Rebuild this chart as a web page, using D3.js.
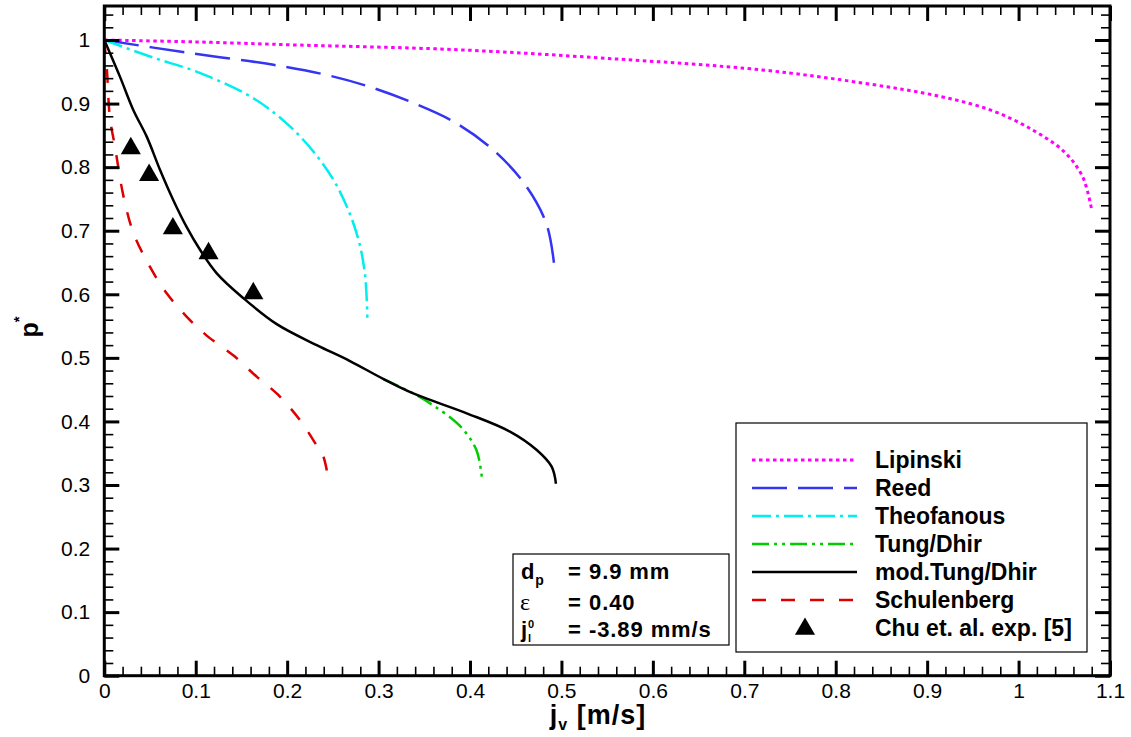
<!DOCTYPE html>
<html>
<head>
<meta charset="utf-8">
<script src="https://cdn.jsdelivr.net/npm/d3@7"></script>
<style>
  body { margin: 0; background: #fff; }
  svg { display: block; font-family: "Liberation Sans", Arial, Helvetica, sans-serif; }
</style>
</head>
<body>
<svg id="chart" width="1131" height="737"></svg>
<script>
// Dryout pressure ratio p* versus superficial vapour velocity j_v [m/s]
const xTicks = [0, 0.1, 0.2, 0.3, 0.4, 0.5, 0.6, 0.7, 0.8, 0.9, 1, 1.1];
const yTicks = [0, 0.1, 0.2, 0.3, 0.4, 0.5, 0.6, 0.7, 0.8, 0.9, 1];

const lipinski = [
  [0, 1.0], [0.1, 0.997], [0.214, 0.992], [0.382, 0.985], [0.551, 0.971], [0.719, 0.953],
  [0.831, 0.932], [0.915, 0.911], [0.971, 0.889], [1.016, 0.858], [1.05, 0.824],
  [1.07, 0.785], [1.080, 0.733]
];
const reed = [
  [0, 1.0], [0.086, 0.981], [0.185, 0.961], [0.24, 0.946], [0.289, 0.927], [0.338, 0.901],
  [0.384, 0.870], [0.4255, 0.827], [0.46, 0.773], [0.484, 0.709], [0.493, 0.634]
];
const theofanous = [
  [0, 1.0], [0.05, 0.974], [0.105, 0.948], [0.16, 0.911], [0.197, 0.872], [0.229, 0.824],
  [0.255, 0.769], [0.276, 0.696], [0.285, 0.633], [0.2877, 0.563]
];
const tungDhir = [
  [0.305, 0.467], [0.338, 0.444], [0.36, 0.425], [0.389, 0.393],
  [0.407, 0.355], [0.413, 0.311]
];
const modTungDhir = [
  [0, 1.0], [0.0172, 0.942], [0.0317, 0.890], [0.0464, 0.848], [0.061, 0.7955],
  [0.0755, 0.748], [0.09, 0.706], [0.1047, 0.670], [0.123, 0.633], [0.152, 0.594],
  [0.1886, 0.553], [0.2323, 0.520], [0.2687, 0.495], [0.305, 0.467], [0.338, 0.444],
  [0.3964, 0.4128], [0.4437, 0.384], [0.473, 0.355], [0.4893, 0.3288], [0.494, 0.302]
];
const schulenberg = [
  [0, 1.0], [0.003, 0.95], [0.006, 0.879], [0.0117, 0.832], [0.021, 0.754], [0.032, 0.696],
  [0.05, 0.643], [0.068, 0.602], [0.09, 0.565], [0.112, 0.535], [0.141, 0.504],
  [0.167, 0.470], [0.19, 0.442], [0.214, 0.402], [0.2323, 0.362], [0.2395, 0.345], [0.245, 0.31]
];
const chuExp = [
  [0.029, 0.831], [0.049, 0.789], [0.075, 0.705], [0.114, 0.666], [0.163, 0.603]
];

const legendNames = ["Lipinski", "Reed", "Theofanous", "Tung/Dhir", "mod.Tung/Dhir", "Schulenberg", "Chu et. al. exp. [5]"];

const svg = d3.select("#chart");
const plotLeft = 104.3, plotRight = 1110, plotTop = 6, plotBottom = 675.7;

const x = d3.scaleLinear().domain([0, 1.1]).range([plotLeft, plotRight]);
const y = d3.scaleLinear().domain([0, 1.0535]).range([plotBottom, plotTop]);

const styles = [
  { data: lipinski,    color: "#ff00ff", width: 3,   dash: "3.5,3.5" },
  { data: reed,        color: "#3434f2", width: 2.5, dash: "35,11" },
  { data: theofanous,  color: "#00eeee", width: 2.5, dash: "19,5,3,5" },
  { data: tungDhir,    color: "#00cc00", width: 2.5, dash: "17,5,3,5,3,5" },
  { data: modTungDhir, color: "#000000", width: 2.5, dash: null },
  { data: schulenberg, color: "#dd0000", width: 2.5, dash: "14,15" }
];

svg.append("defs").append("clipPath").attr("id", "plotClip")
  .append("rect").attr("x", plotLeft).attr("y", plotTop)
  .attr("width", plotRight - plotLeft).attr("height", plotBottom - plotTop);

const line = d3.line().x(d => x(d[0])).y(d => y(d[1])).curve(d3.curveCatmullRom.alpha(0.5));

const curves = svg.append("g").attr("clip-path", "url(#plotClip)");
styles.forEach(s => {
  curves.append("path")
    .datum(s.data)
    .attr("d", line)
    .attr("fill", "none")
    .attr("stroke", s.color)
    .attr("stroke-width", s.width)
    .attr("stroke-dasharray", s.dash);
});

// experimental points
const tri = d3.symbol().type(d3.symbolTriangle).size(175);
svg.append("g").selectAll("path").data(chuExp).join("path")
  .attr("d", tri)
  .attr("transform", d => `translate(${x(d[0])},${y(d[1]) + 1})`)
  .attr("fill", "#000");

// axes: ticks point inward on all four sides
const fmt = d3.format("~g");
const xMinor = d3.range(0, 1.1001, 0.02).filter(v => Math.abs(v * 10 - Math.round(v * 10)) > 1e-6);
const yMinor = d3.range(0, 1.0535, 0.02).filter(v => Math.abs(v * 10 - Math.round(v * 10)) > 1e-6);

function styleAxis(g, major) {
  g.select(".domain").remove();
  g.selectAll(".tick line").attr("stroke", "#000").attr("stroke-width", major ? 3 : 1.6);
  g.selectAll(".tick text").attr("fill", "#000").style("font-size", "21px")
    .style("font-family", '"Liberation Sans", Arial, sans-serif');
}

svg.append("g").attr("transform", `translate(0,${plotBottom})`)
  .call(d3.axisBottom(x).tickValues(xTicks).tickFormat(fmt).tickSizeInner(-15).tickSizeOuter(0).tickPadding(7))
  .call(g => styleAxis(g, true));
svg.append("g").attr("transform", `translate(0,${plotBottom})`)
  .call(d3.axisBottom(x).tickValues(xMinor).tickFormat("").tickSizeInner(-9).tickSizeOuter(0))
  .call(g => styleAxis(g, false));
svg.append("g").attr("transform", `translate(0,${plotTop})`)
  .call(d3.axisTop(x).tickValues(xTicks).tickFormat("").tickSizeInner(-15).tickSizeOuter(0))
  .call(g => styleAxis(g, true));
svg.append("g").attr("transform", `translate(0,${plotTop})`)
  .call(d3.axisTop(x).tickValues(xMinor).tickFormat("").tickSizeInner(-9).tickSizeOuter(0))
  .call(g => styleAxis(g, false));

svg.append("g").attr("transform", `translate(${plotLeft},0)`)
  .call(d3.axisLeft(y).tickValues(yTicks).tickFormat(fmt).tickSizeInner(-15).tickSizeOuter(0).tickPadding(14))
  .call(g => styleAxis(g, true));
svg.append("g").attr("transform", `translate(${plotLeft},0)`)
  .call(d3.axisLeft(y).tickValues(yMinor).tickFormat("").tickSizeInner(-9).tickSizeOuter(0))
  .call(g => styleAxis(g, false));
svg.append("g").attr("transform", `translate(${plotRight},0)`)
  .call(d3.axisRight(y).tickValues(yTicks).tickFormat("").tickSizeInner(-15).tickSizeOuter(0))
  .call(g => styleAxis(g, true));
svg.append("g").attr("transform", `translate(${plotRight},0)`)
  .call(d3.axisRight(y).tickValues(yMinor).tickFormat("").tickSizeInner(-9).tickSizeOuter(0))
  .call(g => styleAxis(g, false));

// plot frame
svg.append("rect")
  .attr("x", plotLeft).attr("y", plotTop)
  .attr("width", plotRight - plotLeft).attr("height", plotBottom - plotTop)
  .attr("fill", "none").attr("stroke", "#000").attr("stroke-width", 3);

// axis titles
const xt = svg.append("text")
  .attr("x", 598).attr("y", 724)
  .attr("text-anchor", "middle")
  .style("font-weight", "bold").style("font-size", "27px").style("letter-spacing", "1px");
xt.append("tspan").text("j");
xt.append("tspan").text("v").style("font-size", "16px").attr("dy", 6);
xt.append("tspan").text(" [m/s]").attr("dy", -6);

const yt = svg.append("text")
  .attr("transform", "translate(38,327) rotate(-90)")
  .attr("text-anchor", "middle")
  .style("font-weight", "bold").style("font-size", "25px");
yt.append("tspan").text("p");
yt.append("tspan").text("*").style("font-size", "15px").attr("dy", -14);

// legend
const lg = svg.append("g");
lg.append("rect")
  .attr("x", 736).attr("y", 423).attr("width", 351).attr("height", 229)
  .attr("fill", "#fff").attr("stroke", "#000").attr("stroke-width", 1.2);
const rowY = d3.scalePoint().domain(legendNames).range([460, 628]);
legendNames.forEach((name, i) => {
  const cy = rowY(name);
  if (i < styles.length) {
    const s = styles[i];
    lg.append("line")
      .attr("x1", 752).attr("x2", 857).attr("y1", cy).attr("y2", cy)
      .attr("stroke", s.color).attr("stroke-width", s.width)
      .attr("stroke-dasharray", s.dash);
  } else {
    lg.append("path").attr("d", tri)
      .attr("transform", `translate(805,${cy + 1})`).attr("fill", "#000");
  }
  lg.append("text")
    .attr("x", 875).attr("y", cy + 8)
    .style("font-weight", "bold").style("font-size", "23px")
    .text(name);
});

// parameter box
const pb = svg.append("g");
pb.append("rect")
  .attr("x", 513).attr("y", 554).attr("width", 216).attr("height", 91)
  .attr("fill", "#fff").attr("stroke", "#000").attr("stroke-width", 1.2);
const pbFont = t => t.style("font-weight", "bold").style("font-size", "22px").style("letter-spacing", "0.9px");

const l1 = pb.append("text").attr("x", 521).attr("y", 579).call(pbFont);
l1.append("tspan").text("d");
l1.append("tspan").text("p").style("font-size", "14px").attr("dy", 6);
pb.append("text").attr("x", 568).attr("y", 579).call(pbFont).text("=");
pb.append("text").attr("x", 589).attr("y", 579).call(pbFont).text("9.9  mm");

pb.append("text").attr("x", 520).attr("y", 610)
  .style("font-family", '"Liberation Serif", "DejaVu Serif", serif')
  .style("font-size", "24px").text("ε");
pb.append("text").attr("x", 568).attr("y", 610).call(pbFont).text("=");
pb.append("text").attr("x", 589).attr("y", 610).call(pbFont).text("0.40");

// j with stacked subscript l and superscript 0
pb.append("text").attr("x", 521).attr("y", 637).call(pbFont).text("j");
pb.append("text").attr("x", 528).attr("y", 641.5).call(pbFont).style("font-size", "11px").text("l");
pb.append("text").attr("x", 528).attr("y", 628).call(pbFont).style("font-size", "11px").text("0");
pb.append("text").attr("x", 568).attr("y", 637).call(pbFont).text("=");
pb.append("text").attr("x", 589).attr("y", 637).call(pbFont).text("-3.89 mm/s");
</script>
</body>
</html>
